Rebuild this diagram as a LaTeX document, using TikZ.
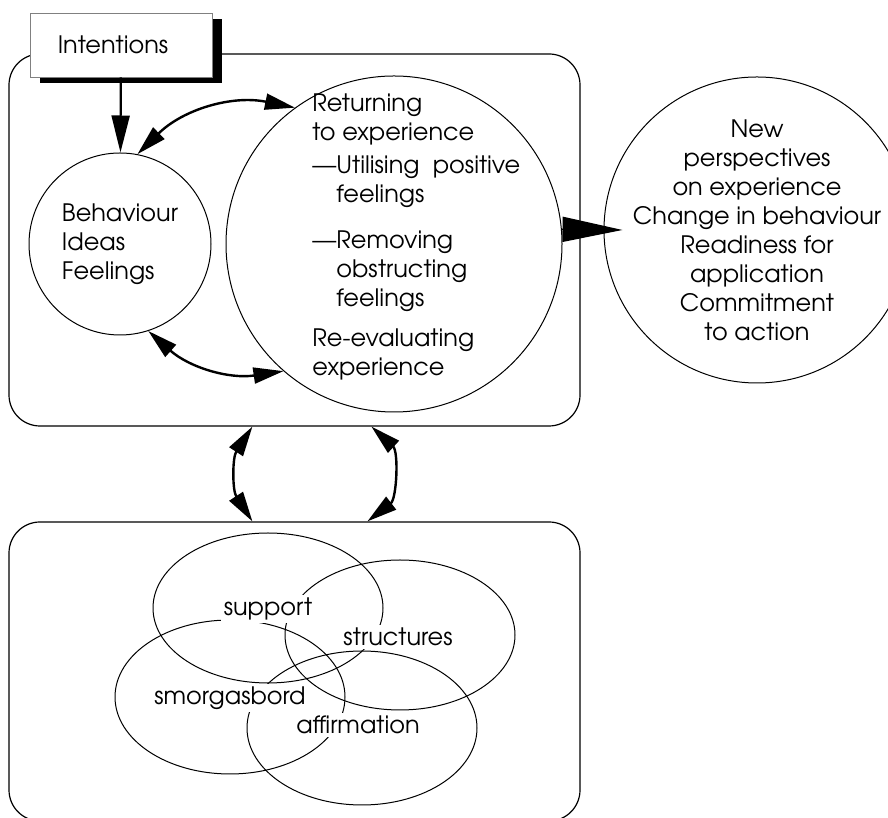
\documentclass[tikz,border=0pt]{standalone}
\usepackage{fontspec}
\setmainfont{TeX Gyre Adventor}
\usetikzlibrary{arrows.meta,shadows,positioning}

\tikzset{
  panel/.style={draw,rounded corners=15.5pt,line width=0.6pt,minimum width=285.5pt},
  ring/.style={draw,circle,line width=0.5pt,inner sep=0pt},
  blob/.style={line width=0.5pt},
  tag/.style={fill=white,inner sep=1.5pt},
  twoway/.style={line width=1.2pt,{Triangle[length=15pt,width=8pt]}-{Triangle[length=15pt,width=8pt]}},
  txt/.style={font=\fontsize{12}{14.5}\selectfont}
}

\begin{document}
\begin{tikzpicture}[x=0.5pt,y=0.5pt,txt]
\useasboundingbox (0,0) rectangle (888,818);
\clip (0,0) rectangle (888,818);

% the two panels
\node[panel,minimum height=186pt] (upper) at (294.5,578) {};
\node[panel,minimum height=149.5pt] (lower) at (294.5,146.5) {};

% four overlapping ellipses
\draw[blob] (268,210) ellipse [x radius=57.5pt,y radius=37.5pt];
\draw[blob] (400,183) ellipse [x radius=57.5pt,y radius=37.5pt];
\draw[blob] (230,121) ellipse [x radius=57.5pt,y radius=38.5pt];
\draw[blob] (362,90) ellipse [x radius=57.5pt,y radius=38.5pt];
\node[tag] (support) at (268,209) {support};
\node[tag] (structures) at (398,181) {structures};
\node[tag] (smorgasbord) at (230,120) {smorgasbord};
\node[tag] (affirmation) at (358,93) {affirmation};

% intentions box
\node[draw=gray,fill=white,minimum width=91pt,minimum height=32pt,
  drop shadow={shadow xshift=5pt,shadow yshift=-3pt,fill=black,opacity=1}]
  (intent) at (121,773) {Intentions\hspace*{8pt}};

% circles
\node[ring,minimum size=91pt,align=left] (bif) at (120,574) {Behaviour\\Ideas\\Feelings};
\node[ring,minimum size=168pt] (exp) at (394,574) {};
\node[ring,minimum size=153pt] (result) at (757,588) {};

\node[align=left,anchor=north west,inner sep=0pt] (exptext) at (312,725)
  {Returning\\to experience\\[2pt]
   —Utilising~ positive\\\hphantom{—}feelings\\[8.5pt]
   —Removing\\\hphantom{—}obstructing\\\hphantom{—}feelings\\[5.5pt]
   Re-evaluating\\experience};
\node[align=center] (resulttext) at (result.center)
  {New\\perspectives\\on experience\\Change in behaviour\\Readiness for\\application\\Commitment\\to action};

% arrows
\draw[line width=1.1pt,-{Triangle[length=18.5pt,width=9pt]}] (intent) -- (bif);
\draw[twoway] (bif.79) to[bend left=28] (exp.126);
\draw[twoway] (bif.288) to[bend right=25] (exp.229);
\draw[twoway] ([xshift=122pt]upper.south west) to[bend right=33] ([xshift=122pt]lower.north west);
\draw[twoway] ([xshift=181.5pt]upper.south west) to[bend left=50] ([xshift=179.5pt]lower.north west);
\coordinate (tipR) at ([xshift=9.5pt]result.west);
\draw[line width=0.8pt,-{Triangle[length=30pt,width=12.5pt]}] (exp.5) -- (tipR);
\end{tikzpicture}
\end{document}
